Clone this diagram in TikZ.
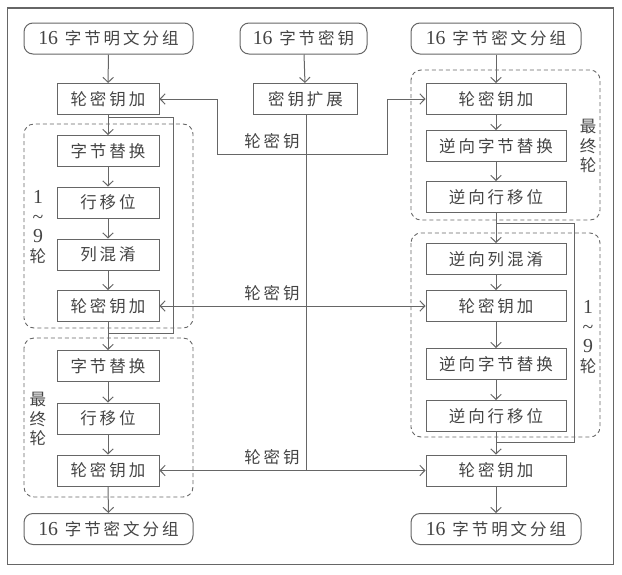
\documentclass[tikz,border=0pt]{standalone}
\usepackage{fontspec}
\setmainfont{Noto Sans CJK SC}[LetterSpace=18]
\newfontfamily\numfont{Liberation Serif}[Scale=1.2]
\usetikzlibrary{arrows.meta}
\definecolor{lc}{HTML}{666666}
\definecolor{tx}{HTML}{444444}
\begin{document}
\begin{tikzpicture}[x=1pt,y=-1pt, font=\fontsize{16.5}{19}\selectfont, text=tx,
 proc/.style={draw=lc, line width=1pt, minimum height=31pt, inner sep=0pt},
 lbox/.style={proc, minimum width=102pt},
 rbox/.style={proc, minimum width=140pt},
 term/.style={proc, rounded corners=9pt},
 dbox/.style={draw=lc, line width=0.9pt, rounded corners=10pt, dash pattern=on 4pt off 3pt},
 wire/.style={draw=lc, line width=1pt},
 arr/.style={wire, -{Straight Barb[length=5pt,width=10.5pt]}},
 vlab/.style={align=center, inner sep=0pt, font=\fontsize{16.5}{19.5}\selectfont}]
\path[use as bounding box] (0,0) rectangle (622,574);
\draw[lc, line width=1.1pt] (7.5,8) rectangle (613.5,564.5);
% dashed groups
\draw[dbox] (24,124) rectangle (193,328);
\draw[dbox] (24,338) rectangle (193,497);
\draw[dbox] (411,70) rectangle (600,220);
\draw[dbox] (411,233) rectangle (600,437);
% left column
\node[term, minimum width=169pt] (L0) at (108.5,38.5) {{\numfont 16} 字节明文分组};
\node[lbox] (L1) at (108,99) {轮密钥加};
\node[lbox] (L2) at (108,151) {字节替换};
\node[lbox] (L3) at (108,202.5) {行移位};
\node[lbox] (L4) at (108,254.5) {列混淆};
\node[lbox] (L5) at (108,306) {轮密钥加};
\node[lbox] (L6) at (108,366) {字节替换};
\node[lbox] (L7) at (108,418.5) {行移位};
\node[lbox] (L8) at (108,470.5) {轮密钥加};
\node[term, minimum width=169pt] (L9) at (108.5,529) {{\numfont 16} 字节密文分组};
% middle column
\node[term, minimum width=127pt] (M0) at (303.5,38.5) {{\numfont 16} 字节密钥};
\node[proc, minimum width=104pt] (M1) at (305.5,99) {密钥扩展};
% right column
\node[term, minimum width=170pt] (R0) at (496,38.5) {{\numfont 16} 字节密文分组};
\node[rbox] (R1) at (496,99) {轮密钥加};
\node[rbox] (R2) at (496,146) {逆向字节替换};
\node[rbox] (R3) at (496,197) {逆向行移位};
\node[rbox] (R4) at (496,259) {逆向列混淆};
\node[rbox] (R5) at (496,306) {轮密钥加};
\node[rbox] (R6) at (496,364) {逆向字节替换};
\node[rbox] (R7) at (496,416) {逆向行移位};
\node[rbox] (R8) at (496,470.5) {轮密钥加};
\node[term, minimum width=170pt] (R9) at (496,529) {{\numfont 16} 字节明文分组};
% vertical labels
\node[vlab] (V1) at (38,227) {{\numfont 1}\\{\numfont\symbol{"007E}}\\{\numfont 9}\\轮};
\node[vlab] (V2) at (38,419) {最\\终\\轮};
\node[vlab] (V3) at (588,146) {最\\终\\轮};
\node[vlab] (V4) at (588,337) {{\numfont 1}\\{\numfont\symbol{"007E}}\\{\numfont 9}\\轮};
% key labels
\node (K1) at (272,141) {轮密钥};
\node (K2) at (272,293) {轮密钥};
\node (K3) at (272,457) {轮密钥};
% coordinates
\coordinate (ltop) at (173,117.5);
\coordinate (lbot) at (173,333);
\coordinate (rtop) at (574,223);
\coordinate (rbot) at (574,442);
\coordinate (kb) at (306,154);
\coordinate (kl) at (217,154);
\coordinate (kr) at (387,154);
\coordinate (kend) at (306,470.5);
% main flow arrows
\foreach \a/\b in {L0/L1,L1/L2,L2/L3,L3/L4,L4/L5,L5/L6,L6/L7,L7/L8,L8/L9,
                   M0/M1,R0/R1,R1/R2,R2/R3,R3/R4,R4/R5,R5/R6,R6/R7,R7/R8,R8/R9}
  \draw[arr] (\a) -- (\b);
% loops
\draw[wire] (L1.south |- ltop) -- (ltop) -- (lbot) -- (L1.south |- lbot);
\draw[wire] (R3.south |- rtop) -- (rtop) -- (rbot) -- (R3.south |- rbot);
% key schedule
\draw[wire] (kb |- M1.south) -- (kend);
\draw[arr] (kb) -- (kl) -- (kl |- L1.east) -- (L1.east);
\draw[arr] (kb) -- (kr) -- (kr |- R1.west) -- (R1.west);
\draw[arr] (kb |- L5.east) -- (L5.east);
\draw[arr] (kb |- R5.west) -- (R5.west);
\draw[arr] (kend) -- (L8.east);
\draw[arr] (kend) -- (R8.west);
\end{tikzpicture}
\end{document}
